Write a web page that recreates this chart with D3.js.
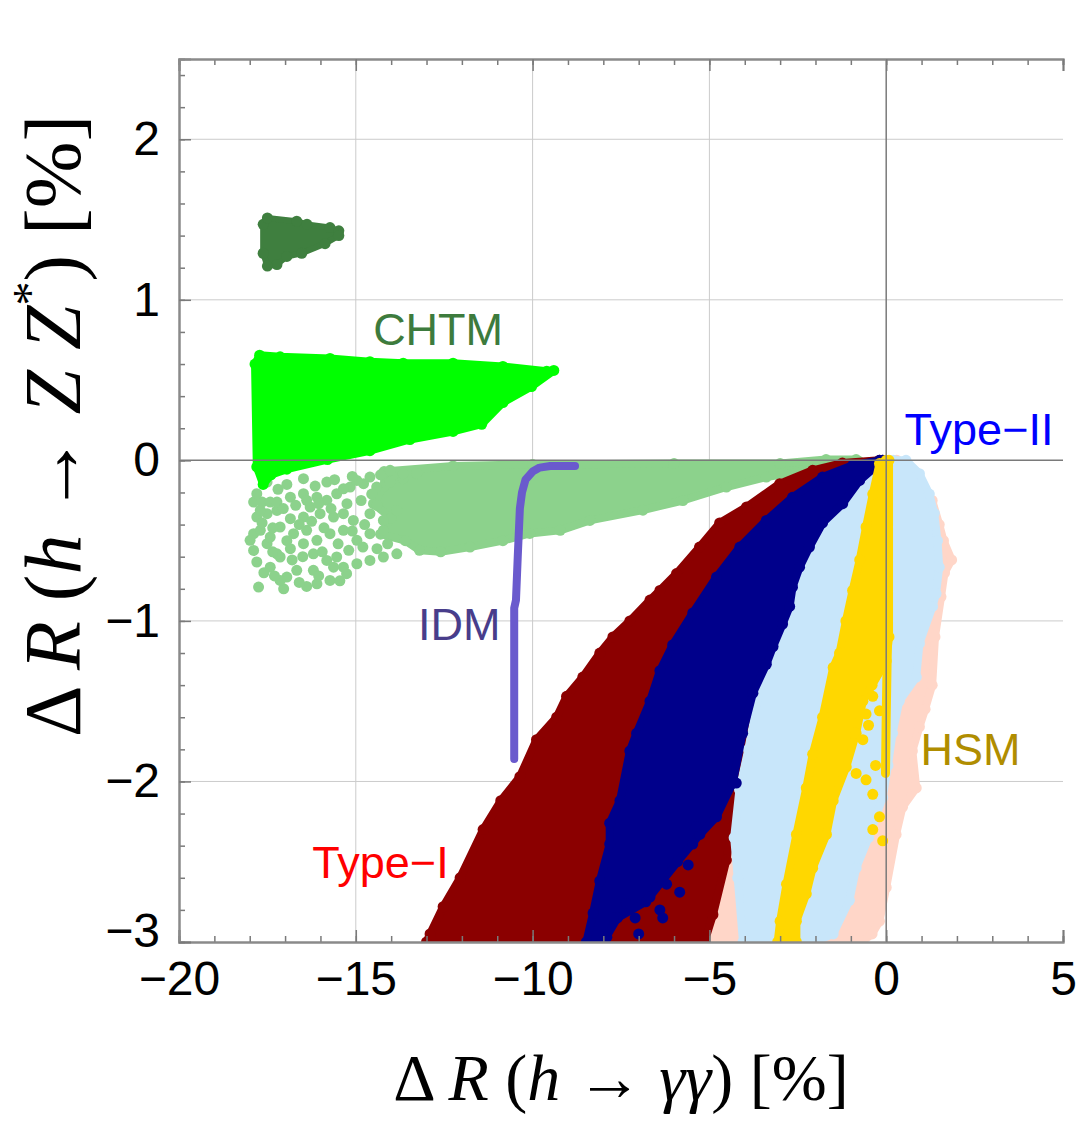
<!DOCTYPE html>
<html>
<head>
<meta charset="utf-8">
<script src="https://cdn.jsdelivr.net/npm/d3@7"></script>
<style>
  body { margin: 0; background: #fff; }
  svg text { font-family: "Liberation Sans", Arial, sans-serif; }
  .title { font-family: "Liberation Serif", "Times New Roman", serif; }
</style>
</head>
<body>
<div id="chart"></div>
<script>
// Delta R(h -> gamma gamma) vs Delta R(h -> Z Z*), scan regions per model

// axis ticks
const xTickLabels = [-20, -15, -10, -5, 0, 5]
const yTickLabels = [-3, -2, -1, 0, 1, 2]

// region outlines, [dR_gammagamma, dR_ZZ] in %
const chtmUpper = [[-17.62, 1.47], [-17.50, 1.51], [-16.67, 1.49], [-16.38, 1.47], [-15.73, 1.45],
  [-15.48, 1.43], [-15.48, 1.40], [-15.87, 1.35], [-16.53, 1.29], [-16.95, 1.27], [-17.23, 1.22],
  [-17.50, 1.21], [-17.62, 1.29]]

const chtmMiddle = [[-17.85, 0.60], [-17.72, 0.655], [-17.14, 0.645], [-15.73, 0.635], [-14.60, 0.615],
  [-13.66, 0.605], [-12.25, 0.605], [-10.84, 0.585], [-9.60, 0.555], [-9.40, 0.56], [-10.03, 0.46],
  [-10.84, 0.36], [-11.44, 0.225], [-12.25, 0.18], [-13.47, 0.13], [-14.60, 0.06], [-15.80, 0.005],
  [-16.95, -0.055], [-17.40, -0.09], [-17.62, -0.15], [-17.80, -0.04]]

const chtmLowerDense = [[-14.2, -0.07], [-12.25, -0.035], [-10.0, -0.025], [-6.0, -0.02], [-3.0, -0.02],
  [-1.70, 0.005], [-0.85, 0.005], [-0.78, -0.005], [-1.23, -0.031], [-2.17, -0.062], [-3.39, -0.104],
  [-4.52, -0.166], [-5.75, -0.25], [-6.88, -0.31], [-8.38, -0.374], [-9.22, -0.436], [-10.08, -0.455],
  [-10.84, -0.50], [-11.77, -0.54], [-12.6, -0.57], [-13.2, -0.56], [-13.6, -0.50], [-14.3, -0.46],
  [-14.0, -0.36], [-14.5, -0.27], [-14.2, -0.16]]

// sparse left part of the lower CHTM cloud, single points
const chtmLowerSparse = [[-17.75, -0.789], [-17.04, -0.80], [-16.39, -0.785], [-16.10, -0.769],
  [-15.73, -0.748], [-15.26, -0.706], [-17.80, -0.633], [-17.42, -0.665], [-17.14, -0.602],
  [-16.95, -0.727], [-16.67, -0.685], [-17.89, -0.561], [-17.51, -0.519], [-17.23, -0.582],
  [-16.85, -0.55], [-16.48, -0.519], [-16.20, -0.582], [-15.82, -0.623], [-15.54, -0.602],
  [-15.35, -0.665], [-14.97, -0.644], [-14.60, -0.623], [-14.22, -0.602], [-13.84, -0.582],
  [-17.89, -0.457], [-17.70, -0.436], [-17.42, -0.478], [-17.14, -0.415], [-16.76, -0.457],
  [-16.39, -0.436], [-16.10, -0.498], [-15.73, -0.457], [-15.35, -0.436], [-14.97, -0.498],
  [-14.60, -0.457], [-14.22, -0.436], [-17.80, -0.353], [-17.51, -0.332], [-17.23, -0.312],
  [-16.85, -0.363], [-16.48, -0.353], [-16.29, -0.291], [-16.01, -0.332], [-15.63, -0.353],
  [-15.35, -0.332], [-15.07, -0.374], [-14.60, -0.332], [-14.22, -0.374], [-13.84, -0.312],
  [-17.89, -0.260], [-17.65, -0.260], [-17.42, -0.260], [-17.23, -0.260], [-16.85, -0.229],
  [-16.48, -0.208], [-16.10, -0.229], [-15.82, -0.249], [-15.54, -0.208], [-15.16, -0.166],
  [-14.78, -0.145], [-14.41, -0.166], [-14.03, -0.135], [-13.66, -0.114], [-17.80, -0.208],
  [-17.51, -0.135], [-16.48, -0.114], [-16.39, -0.249], [-15.82, -0.135], [-15.35, -0.177],
  [-14.97, -0.125], [-14.60, -0.104], [-14.03, -0.062], [-13.66, -0.083], [-13.28, -0.083],
  [-17.99, -0.498], [-17.14, -0.748], [-16.20, -0.685], [-15.63, -0.665],
  [-17.60, -0.70], [-17.30, -0.72], [-16.60, -0.76], [-16.80, -0.62], [-16.50, -0.60],
  [-15.95, -0.57], [-15.20, -0.56], [-14.80, -0.54], [-14.40, -0.55], [-17.65, -0.39],
  [-17.35, -0.42], [-16.95, -0.50], [-16.60, -0.40], [-16.25, -0.38], [-15.90, -0.42],
  [-15.50, -0.52], [-15.10, -0.44], [-14.75, -0.40], [-14.40, -0.28], [-17.05, -0.30],
  [-16.70, -0.28], [-16.05, -0.27], [-15.70, -0.30], [-15.25, -0.27], [-14.85, -0.25],
  [-14.55, -0.21], [-17.20, -0.18], [-16.95, -0.15], [-16.15, -0.16], [-15.60, -0.12],
  [-15.10, -0.10], [-14.30, -0.09], [-17.70, -0.31], [-16.05, -0.72], [-15.45, -0.75],
  [-17.35, -0.57], [-14.10, -0.52]]

const idmCurve = [[-10.52, -1.86], [-10.52, -0.92], [-10.47, -0.87], [-10.42, -0.60], [-10.36, -0.30],
  [-10.30, -0.20], [-10.20, -0.12], [-10.00, -0.07], [-9.80, -0.045], [-9.50, -0.035], [-8.80, -0.035]]

const typeI = [[-13.0, -3.0], [-12.9, -2.95], [-12.53, -2.78], [-12.05, -2.6], [-11.4, -2.3],
  [-10.9, -2.12], [-10.36, -1.97], [-9.89, -1.74], [-9.32, -1.6], [-9.04, -1.47], [-8.58, -1.35],
  [-8.1, -1.2], [-7.73, -1.1], [-7.25, -1.0], [-6.68, -0.87], [-6.4, -0.81], [-5.93, -0.705],
  [-5.28, -0.54], [-4.71, -0.39], [-3.95, -0.29], [-3.01, -0.145], [-2.08, -0.062], [-1.24, -0.017],
  [-0.19, 0.0], [-0.1, 0.0], [-0.8, -0.1], [-1.5, -0.3], [-2.2, -0.55], [-2.6, -0.8], [-3.0, -1.1],
  [-3.49, -1.39], [-3.86, -1.74], [-3.95, -2.12], [-4.34, -2.28], [-4.52, -2.49], [-4.9, -2.83],
  [-5.14, -3.0]]

const typeII = [[-8.48, -3.0], [-8.29, -2.82], [-8.1, -2.62], [-7.82, -2.39], [-7.82, -2.26],
  [-7.53, -2.12], [-7.25, -1.81], [-7.06, -1.70], [-6.68, -1.5], [-6.4, -1.31], [-6.04, -1.15],
  [-5.47, -0.95], [-4.8, -0.727], [-4.14, -0.54], [-3.39, -0.374], [-2.65, -0.23], [-1.8, -0.104],
  [-0.95, -0.031], [-0.19, 0.0], [-0.1, 0.0], [-0.75, -0.125], [-1.23, -0.27], [-1.8, -0.39],
  [-2.17, -0.54], [-2.45, -0.665], [-2.65, -0.79], [-2.73, -0.91], [-2.93, -1.02], [-3.2, -1.16],
  [-3.39, -1.27], [-3.77, -1.45], [-4.06, -1.70], [-4.34, -2.01], [-4.8, -2.22], [-5.27, -2.33],
  [-5.9, -2.5], [-6.8, -2.75], [-7.6, -2.85], [-8.0, -3.0]]

const typeIIDots = [[-7.73, -2.85], [-7.35, -2.76], [-6.4, -2.8], [-6.32, -2.85], [-5.84, -2.69],
  [-6.21, -2.64], [-6.68, -2.72], [-5.47, -2.39], [-5.37, -2.28], [-4.24, -2.01], [-7.0, -2.95],
  [-7.9, -2.97], [-5.6, -2.52], [-7.1, -2.85]]

const hsmWide = [[-5.2, -3.0], [-4.95, -2.75], [-4.6, -2.4], [-4.2, -2.0], [-3.6, -1.5], [-3.0, -1.1],
  [-2.0, -0.5], [-1.0, -0.15], [0.0, 0.0], [0.3, 0.0], [0.9, -0.09], [1.3, -0.25], [1.5, -0.4],
  [1.62, -0.5], [1.85, -0.62], [1.65, -0.70], [1.55, -0.85], [1.38, -1.1], [1.3, -1.4], [1.1, -1.55],
  [0.94, -1.66], [0.74, -1.81], [0.85, -2.04], [0.46, -2.16], [0.28, -2.33], [0.0, -2.66],
  [-0.19, -2.87], [-0.4, -2.95], [-0.7, -3.0]]

const lightBlue = [[-4.05, -3.0], [-4.2, -2.6], [-4.3, -2.35], [-4.15, -2.05], [-3.9, -1.8],
  [-3.6, -1.45], [-3.2, -1.15], [-2.7, -0.8], [-2.2, -0.5], [-1.5, -0.25], [-0.8, -0.08], [-0.1, 0.0],
  [0.2, 0.0], [0.56, 0.0], [0.94, -0.083], [1.22, -0.21], [1.36, -0.33], [1.45, -0.5], [1.5, -0.665],
  [1.41, -0.83], [1.31, -0.91], [0.94, -1.14], [0.85, -1.35], [0.37, -1.5], [0.18, -1.70],
  [0.05, -1.9], [-0.1, -2.1], [-0.5, -2.35], [-0.85, -2.54], [-1.04, -2.74], [-1.5, -2.95],
  [-2.05, -3.0]]

const hsmNarrow = [[-3.07, -3.0], [-3.0, -2.87], [-2.82, -2.64], [-2.54, -2.33], [-2.26, -2.04],
  [-2.08, -1.83], [-1.8, -1.6], [-1.5, -1.29], [-1.32, -1.2], [-1.14, -1.0], [-0.95, -0.81],
  [-0.75, -0.62], [-0.57, -0.415], [-0.38, -0.21], [-0.19, -0.02], [0.0, 0.0], [0.08, 0.0],
  [0.08, -1.1], [0.0, -1.25], [-0.4, -1.4], [-0.66, -1.5], [-0.85, -1.7], [-1.13, -1.91],
  [-1.5, -2.12], [-1.69, -2.33], [-2.08, -2.54], [-2.26, -2.70], [-2.54, -2.87], [-2.54, -3.0]]

const hsmNarrowEdge = [[0.03, 0.0], [0.03, -1.2], [0.0, -1.6], [-0.02, -1.95]]

const hsmNarrowDots = [[-0.38, -1.47], [-0.19, -1.56], [-0.57, -1.58], [-0.66, -1.74], [-0.57, -1.99],
  [-0.38, -2.08], [-0.19, -2.22], [-0.1, -2.37], [-0.38, -2.3], [-0.85, -1.95], [-0.5, -1.65],
  [-0.3, -1.9]]

const labels = [
  { text: 'CHTM', x: -14.51, y: 0.717, color: '#3d7b3d' },
  { text: 'Type\u2212II', x: 0.52, y: 0.093, color: '#0000ff' },
  { text: 'IDM', x: -13.24, y: -1.12, color: '#483d8b' },
  { text: 'HSM', x: 0.97, y: -1.90, color: '#b08d00' },
  { text: 'Type\u2212I', x: -16.23, y: -2.60, color: '#ff0000' }
]

// layout
const width = 1080
const height = 1122
const margin = { top: 59, right: 17, bottom: 180, left: 179 }
const plotW = width - margin.left - margin.right
const plotH = height - margin.top - margin.bottom

const svg = d3.select('#chart')
  .append('svg')
  .attr('width', width)
  .attr('height', height)

const x = d3.scaleLinear().domain([-20, 5]).range([0, plotW])
const y = d3.scaleLinear().domain([-3, 2.5]).range([plotH, 0])

const g = svg.append('g')
  .attr('transform', `translate(${margin.left},${margin.top})`)

g.append('defs').append('clipPath').attr('id', 'clip')
  .append('rect').attr('width', plotW).attr('height', plotH)

// grid
const grid = g.append('g').attr('stroke', '#cbcbcb').attr('stroke-width', 1)
xTickLabels.filter(d => d !== 0 && d > -20 && d < 5).forEach(d => {
  grid.append('line').attr('x1', x(d)).attr('x2', x(d)).attr('y1', 0).attr('y2', plotH)
})
yTickLabels.filter(d => d !== 0 && d > -3).forEach(d => {
  grid.append('line').attr('x1', 0).attr('x2', plotW).attr('y1', y(d)).attr('y2', y(d))
})

const line = d3.line().x(d => x(d[0])).y(d => y(d[1]))
const regions = g.append('g').attr('clip-path', 'url(#clip)')

// filled cloud, rounded rim with a dot on every outline point
function cloud (data, color, sw) {
  const r = regions.append('g')
  r.append('path')
    .attr('d', line(data) + 'Z')
    .attr('fill', color)
    .attr('stroke', color)
    .attr('stroke-width', sw || 8)
    .attr('stroke-linejoin', 'round')
  dots(data, color, r)
}

function dots (data, color, parent) {
  (parent || regions).append('g').selectAll('circle')
    .data(data)
    .enter().append('circle')
    .attr('cx', d => x(d[0]))
    .attr('cy', d => y(d[1]))
    .attr('r', 5.5)
    .attr('fill', color)
}

function strip (data, color, w) {
  regions.append('path')
    .attr('d', line(data))
    .attr('fill', 'none')
    .attr('stroke', color)
    .attr('stroke-width', w)
    .attr('stroke-linecap', 'round')
    .attr('stroke-linejoin', 'round')
}

cloud(chtmLowerDense, '#8cd28c')
dots(chtmLowerSparse, '#8cd28c')
cloud(chtmMiddle, '#00ff00')
cloud(chtmUpper, '#3f7f3f', 6)

cloud(hsmWide, '#ffd6c8')
cloud(typeI, '#8b0000')
cloud(lightBlue, '#c8e6fa')
cloud(typeII, '#00008b')
dots(typeIIDots, '#00008b')
cloud(hsmNarrow, '#ffd700')
strip(hsmNarrowEdge, '#ffd700', 9)
dots(hsmNarrowDots, '#ffd700')

strip(idmCurve, '#6a5acd', 8)

// zero axes on top of the points
g.append('line').attr('x1', x(0)).attr('x2', x(0)).attr('y1', 0).attr('y2', plotH)
  .attr('stroke', '#7a7a7a').attr('stroke-width', 1.5)
g.append('line').attr('x1', 0).attr('x2', plotW).attr('y1', y(0)).attr('y2', y(0))
  .attr('stroke', '#7a7a7a').attr('stroke-width', 1.5)

// frame with inward ticks on all sides
const xMinor = x.ticks(25)
const yMinor = d3.range(-3, 2.51, 0.2)
const fmt = d3.format('d')

function frameAxis (axis, tx, ty, major, minor, showLabels) {
  const a = g.append('g').attr('transform', `translate(${tx},${ty})`)
  a.call(axis.tickValues(minor).tickSize(-6).tickFormat(''))
  const b = g.append('g').attr('transform', `translate(${tx},${ty})`)
  b.call(axis.tickValues(major).tickSize(-12).tickPadding(19).tickFormat(showLabels ? fmt : ''))
  ;[a, b].forEach(s => {
    s.select('.domain').attr('stroke', '#8a8a8a').attr('stroke-width', 2)
    s.selectAll('.tick line').attr('stroke', '#7a7a7a').attr('stroke-width', 1.5)
    s.selectAll('.tick text').attr('font-size', 48).attr('fill', '#000')
      .attr('font-family', '"Liberation Sans", Arial, sans-serif')
  })
  return b
}

frameAxis(d3.axisBottom(x), 0, plotH, xTickLabels, xMinor, true)
frameAxis(d3.axisTop(x), 0, 0, xTickLabels, xMinor, false)
const yAxisLeft = frameAxis(d3.axisLeft(y), 0, 0, yTickLabels, yMinor, true)
// keep the lowest y label clear of the -20 label below it
yAxisLeft.selectAll('.tick text').filter(d => d === -3).attr('dy', '0.1em')

// region labels
g.append('g').selectAll('text')
  .data(labels)
  .enter().append('text')
  .attr('x', d => x(d.x))
  .attr('y', d => y(d.y))
  .attr('fill', d => d.color)
  .attr('font-size', 45)
  .text(d => d.text)

// axis titles
const xt = svg.append('text')
  .attr('class', 'title')
  .attr('x', margin.left + plotW / 2)
  .attr('y', 1100)
  .attr('text-anchor', 'middle')
  .attr('font-size', 66)
xt.append('tspan').text('\u0394 ')
xt.append('tspan').attr('font-style', 'italic').text('R')
xt.append('tspan').text(' (')
xt.append('tspan').attr('font-style', 'italic').text('h')
xt.append('tspan').text(' \u2192 ')
xt.append('tspan').attr('font-style', 'italic').text('\u03b3\u03b3')
xt.append('tspan').text(') [%]')

const yt = svg.append('text')
  .attr('class', 'title')
  .attr('transform', 'translate(80,426) rotate(-90)')
  .attr('text-anchor', 'middle')
  .attr('font-size', 80)
yt.append('tspan').text('\u0394 ')
yt.append('tspan').attr('font-style', 'italic').text('R')
yt.append('tspan').text(' (')
yt.append('tspan').attr('font-style', 'italic').text('h')
yt.append('tspan').text(' \u2192 ')
yt.append('tspan').attr('font-style', 'italic').text('Z Z')
yt.append('tspan').attr('font-size', 48).attr('dy', -34).text('*')
yt.append('tspan').attr('dy', 34).text(') [%]')
</script>
</body>
</html>
